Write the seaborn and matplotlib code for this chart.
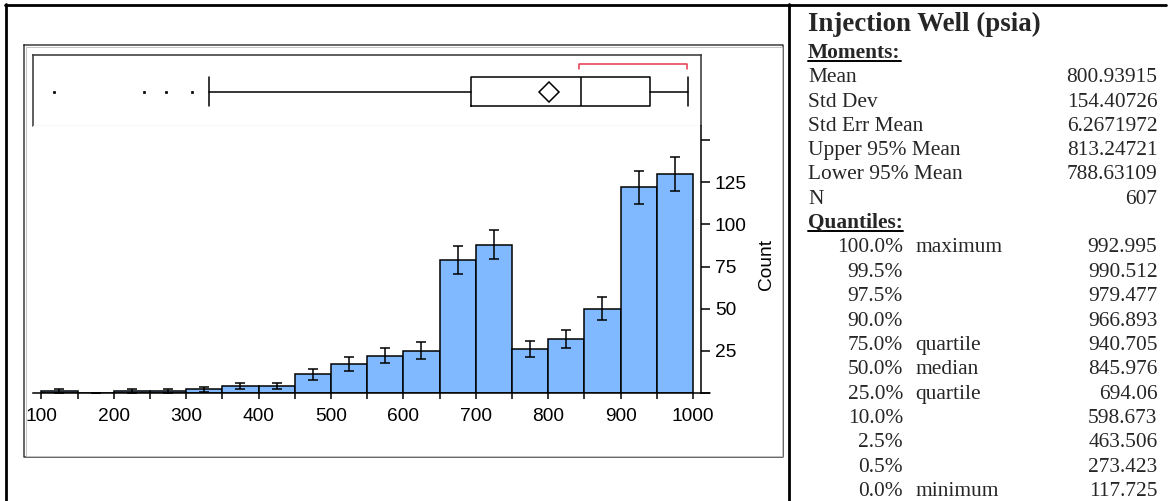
import numpy as np
import matplotlib
matplotlib.use("Agg")
import matplotlib.pyplot as plt
from matplotlib.lines import Line2D
import seaborn as sns

# ---- histogram of injection well pressure (psia) ----
bin_edges = [100, 150, 200, 250, 300, 350, 400, 450, 500, 550,
             600, 650, 700, 750, 800, 850, 900, 950, 1000]
bin_counts = [1, 0, 1, 1, 2, 4, 4, 11, 17, 22, 25, 79, 88, 26, 32, 50, 122, 130]
x_tick_values = [100, 200, 300, 400, 500, 600, 700, 800, 900, 1000]
y_tick_values = [0, 25, 50, 75, 100, 125, 150]
y_tick_labels = ["", "25", "50", "75", "100", "125", ""]

# ---- outlier box plot summary ----
box_q1 = 694.06
box_median = 845.976
box_q3 = 940.705
box_mean = 800.93915
whisker_low = 332.0
whisker_high = 992.995
outlier_values = [117.725, 242.0, 272.0, 308.0]
shortest_half = [843.0, 992.0]

# ---- summary statistics ----
panel_title = "Injection Well (psia)"
moment_labels = ["Mean", "Std Dev", "Std Err Mean", "Upper 95% Mean",
                 "Lower 95% Mean", "N"]
moment_values = ["800.93915", "154.40726", "6.2671972", "813.24721",
                 "788.63109", "607"]
n_obs = 607
quantile_pcts = ["100.0%", "99.5%", "97.5%", "90.0%", "75.0%", "50.0%",
                 "25.0%", "10.0%", "2.5%", "0.5%", "0.0%"]
quantile_names = ["maximum", "", "", "", "quartile", "median", "quartile",
                  "", "", "", "minimum"]
quantile_values = ["992.995", "990.512", "979.477", "966.893", "940.705",
                   "845.976", "694.06", "598.673", "463.506", "273.423",
                   "117.725"]

sns.set_style("white")
plt.rcParams["font.family"] = ["Liberation Sans", "DejaVu Sans"]

W, H = 1168, 501
fig = plt.figure(figsize=(W / 100, H / 100), dpi=100)


def fx(px):
    return px / W


def fy(py):
    return 1 - py / H


def fig_line(xs, ys, **kw):
    fig.add_artist(Line2D([fx(v) for v in xs], [fy(v) for v in ys],
                          transform=fig.transFigure, **kw))


# table cell borders
fig_line([6, 6], [4, 501], color="black", lw=2.0)
fig_line([789, 789], [4, 501], color="black", lw=2.0)
fig_line([5, 1166], [5, 5], color="black", lw=2.0)

# report frame around the plots
fig_line([24, 783, 783, 24, 24], [45, 45, 457, 457, 45], color="#3c3c3c", lw=1.1)
fig_line([25.5, 781.5, 781.5, 25.5, 25.5], [46.5, 46.5, 455.5, 455.5, 46.5],
         color="#c4c4c4", lw=0.7)

x_lo, x_hi = 88.54, 1011.05
px_left, px_right = 33, 701
ax_w = (px_right - px_left) / W

# ---- box plot panel ----
ax_b = fig.add_axes([fx(px_left), fy(126), ax_w, 71 / H])
ax_b.set_xlim(x_lo, x_hi)
ax_b.set_ylim(0, 1)
ax_b.set_xticks([])
ax_b.set_yticks([])
for side in ["left", "top", "right"]:
    ax_b.spines[side].set_color("#333333")
    ax_b.spines[side].set_linewidth(1.1)
ax_b.spines["bottom"].set_color("#c8c8c8")
ax_b.spines["bottom"].set_linewidth(0.9)

stats = [{
    "med": box_median, "q1": box_q1, "q3": box_q3,
    "whislo": whisker_low, "whishi": whisker_high,
    "fliers": outlier_values, "mean": box_mean,
}]
line_kw = dict(color="black", lw=1.1)
ax_b.bxp(stats, positions=[0.485], widths=[0.4], capwidths=[0.4],
         orientation="horizontal", showmeans=True, manage_ticks=False,
         boxprops=line_kw, whiskerprops=line_kw, capprops=line_kw,
         medianprops=line_kw,
         meanprops=dict(marker="D", markerfacecolor="white",
                        markeredgecolor="black", markersize=10,
                        markeredgewidth=1.1),
         flierprops=dict(marker="s", markersize=1.6, markerfacecolor="black",
                         markeredgecolor="black", markeredgewidth=0.5,
                         linestyle="none"))
ax_b.plot([shortest_half[0], shortest_half[0], shortest_half[1], shortest_half[1]],
          [0.80, 0.87, 0.87, 0.80], color="#e8384f", lw=1.1)

# ---- histogram panel ----
ax_h = fig.add_axes([fx(px_left), fy(392.7), ax_w, (392.7 - 126) / H])
centers = [(a + b) / 2 for a, b in zip(bin_edges[:-1], bin_edges[1:])]
sns.histplot(x=centers, weights=bin_counts, bins=bin_edges, ax=ax_h,
             color="#80b9ff", edgecolor="black", linewidth=1.1, alpha=1.0)
counts = np.array(bin_counts, dtype=float)
errs = np.sqrt(counts * (1 - counts / n_obs))
ax_h.errorbar(centers, counts, yerr=errs, fmt="none", ecolor="black",
              elinewidth=1.1, capsize=3.4, capthick=1.1)

ax_h.set_xlim(x_lo, x_hi)
ax_h.set_ylim(0, 158.5)
ax_h.spines["left"].set_visible(False)
ax_h.spines["top"].set_visible(False)
for side in ["right", "bottom"]:
    ax_h.spines[side].set_color("black")
    ax_h.spines[side].set_linewidth(1.1)
ax_h.add_line(Line2D([1, 1 + 9 / (px_right - px_left)], [0, 0],
                     transform=ax_h.transAxes, color="black", lw=1.1,
                     clip_on=False))

ax_h.set_xticks(bin_edges, minor=False)
ax_h.set_xticklabels([str(v) if v in x_tick_values else "" for v in bin_edges])
ax_h.yaxis.tick_right()
ax_h.set_yticks(y_tick_values)
ax_h.set_yticklabels(y_tick_labels)
ax_h.tick_params(axis="x", direction="out", length=4.3, width=1.1,
                 labelsize=13.8, pad=7, colors="black", bottom=True)
ax_h.tick_params(axis="y", direction="out", length=6.5, width=1.1,
                 labelsize=13.8, pad=3.5, colors="black", right=True, left=False)
ax_h.set_xlabel("")
ax_h.set_ylabel("Count", fontsize=13.8, color="black", rotation=90)
ax_h.yaxis.set_label_position("right")
ax_h.yaxis.set_label_coords((758 - px_left) / (px_right - px_left), 0.479)

# ---- statistics text ----
serif = ["Liberation Serif", "DejaVu Serif"]
fs = 15.4
fig.text(fx(808), fy(31), panel_title, fontsize=19.4, fontweight="bold",
         family=serif, va="baseline", ha="left")
head_moments = fig.text(fx(808), fy(58), "Moments:", fontsize=fs,
                        fontweight="bold", family=serif, va="baseline")

row_y = 82.5
for lab, val in zip(moment_labels, moment_values):
    fig.text(fx(808), fy(row_y), lab, fontsize=fs, family=serif, va="baseline")
    fig.text(fx(1157.5), fy(row_y), val, fontsize=fs, family=serif,
             va="baseline", ha="right")
    row_y += 24.2

head_quant = fig.text(fx(808), fy(228), "Quantiles:", fontsize=fs,
                      fontweight="bold", family=serif, va="baseline")
row_y = 252.5
for pct, name, val in zip(quantile_pcts, quantile_names, quantile_values):
    fig.text(fx(903), fy(row_y), pct, fontsize=fs, family=serif,
             va="baseline", ha="right")
    if name:
        fig.text(fx(915), fy(row_y), name, fontsize=fs, family=serif,
                 va="baseline", ha="left")
    fig.text(fx(1157.5), fy(row_y), val, fontsize=fs, family=serif,
             va="baseline", ha="right")
    row_y += 24.35

# underline the section headings
fig.canvas.draw()
renderer = fig.canvas.get_renderer()
for t, base in [(head_moments, 58), (head_quant, 228)]:
    bb = t.get_window_extent(renderer)
    fig_line([bb.x0, bb.x1], [base + 3, base + 3], color="black", lw=1.4)

fig.savefig("out.png", dpi=100)
